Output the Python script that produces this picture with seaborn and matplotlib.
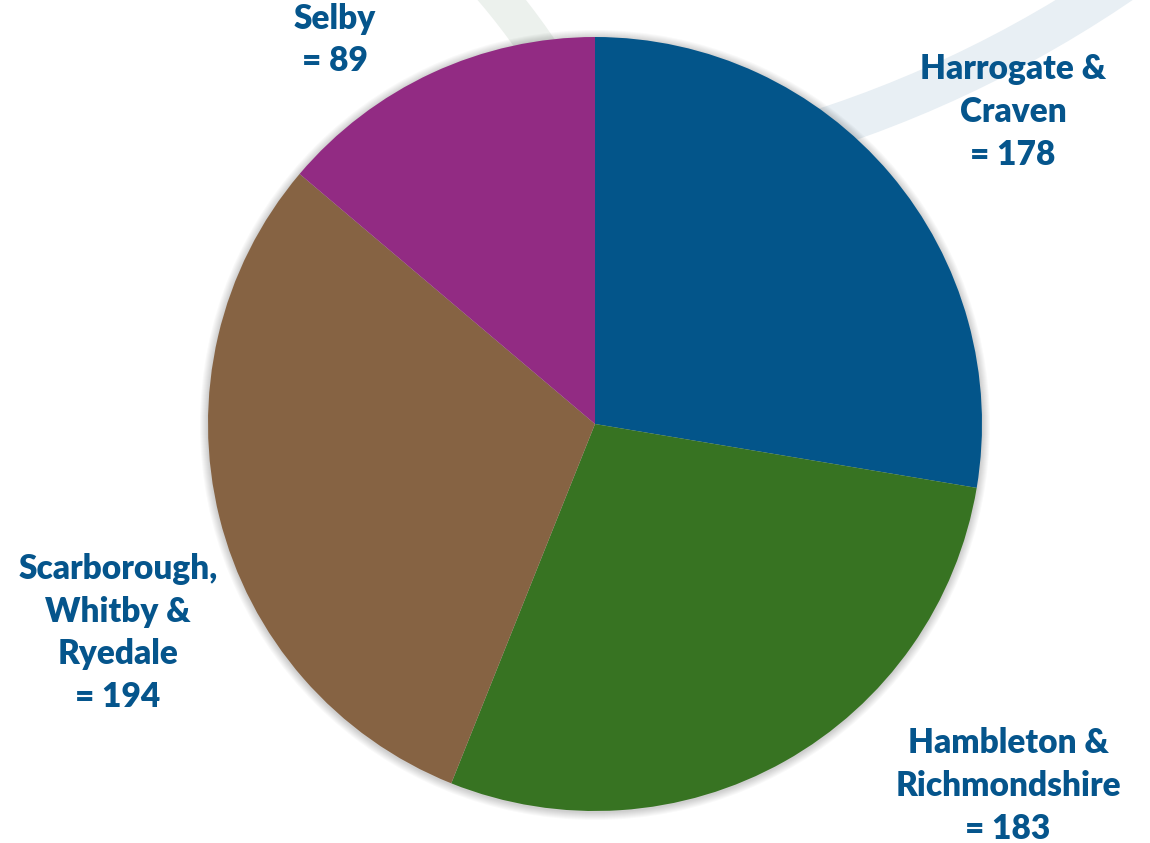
import matplotlib
matplotlib.use("Agg")
import matplotlib.pyplot as plt
from matplotlib.patches import Arc, Circle
import seaborn as sns

# Data
labels = ["Harrogate &\nCraven\n= 178",
          "Hambleton &\nRichmondshire\n= 183",
          "Scarborough,\nWhitby &\nRyedale\n= 194",
          "Selby\n= 89"]
values = [178, 183, 194, 89]
colors = ["#03558A", "#377322", "#866343", "#922B83"]

sns.set_style("white")
plt.rcParams["font.family"] = ["Lato", "DejaVu Sans"]

W, H = 1150, 843
fig = plt.figure(figsize=(W / 100, H / 100), dpi=100)
ax = fig.add_axes([0, 0, 1, 1])
ax.set_xlim(0, W)
ax.set_ylim(0, H)
ax.set_aspect("equal")
ax.axis("off")

# decorative background arcs
ax.add_patch(Arc((459, H + 988), 2 * 1175, 2 * 1175, theta1=-75, theta2=-35,
                 lw=30, color="#E8EFF4", zorder=0))
ax.add_patch(Arc((-40, 400), 2 * 700, 2 * 700, theta1=28, theta2=50,
                 lw=27, color="#ECF1ED", zorder=0))

cx, cy, r = 595, H - 424, 387
# soft shadow
for i in range(8):
    ax.add_patch(Circle((cx, cy - 1), r + 1 + i, color="black",
                        alpha=0.022, lw=0, zorder=1))

ax.pie(values, colors=colors, startangle=90, counterclock=False,
       center=(cx, cy), radius=r, frame=True,
       wedgeprops=dict(linewidth=0, zorder=2))
ax.set_xlim(0, W)
ax.set_ylim(0, H)
ax.axis("off")

txt = dict(color="#05558C", fontsize=24, fontweight="heavy",
           ha="center", va="center", linespacing=1.42, zorder=5)
pos = [(1013, 112), (1008, 786), (118, 633), (335, 40)]
for (x, y), lab in zip(pos, labels):
    ax.text(x, H - y, lab, **txt)

fig.savefig("out.png", dpi=100)
